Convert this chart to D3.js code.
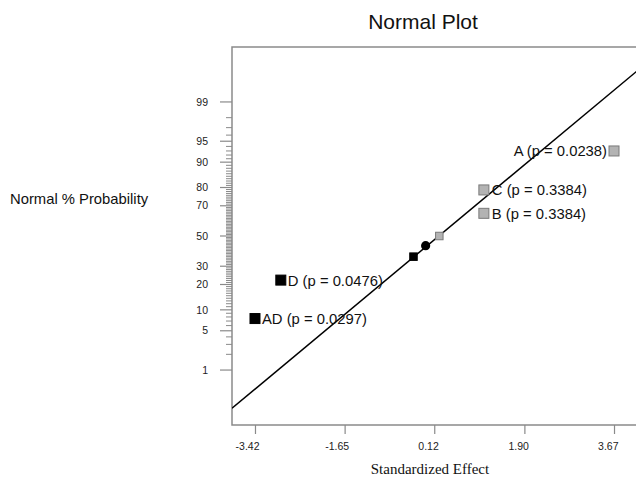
<!DOCTYPE html>
<html><head><meta charset="utf-8">
<script src="https://cdn.jsdelivr.net/npm/d3@7"></script>
<style>body{margin:0;background:#fff}svg{display:block}</style>
</head><body><svg id="c" width="636" height="480"></svg>
<script>
// ---- data ----
const effectNames   = ["AD", "D", "E1", "E2", "E3", "B", "C", "A"];
const effectValues  = [-3.42, -2.91, -0.29, -0.05, 0.22, 1.10, 1.10, 3.67];
const normalPercent = [7.6, 22.2, 36.0, 43.3, 50.0, 65.3, 78.8, 93.0];
const effectLabels  = ["AD (p = 0.0297)", "D (p = 0.0476)", "", "", "", "B (p = 0.3384)", "C (p = 0.3384)", "A (p = 0.0238)"];
const effectSign    = ["neg", "neg", "neg", "mid", "pos", "pos", "pos", "pos"];
const effectLabeled = [true, true, false, false, false, true, true, true];
const xTickValues = [-3.42, -1.65, 0.12, 1.90, 3.67];
const xTickLabels = ["-3.42", "-1.65", "0.12", "1.90", "3.67"];
const yMajorTicks = [1, 5, 10, 20, 30, 50, 70, 80, 90, 95, 99];
const yMinorTicks = [2,3,4,6,7,8,9,11,12,13,14,15,16,17,18,19,21,22,23,24,25,26,27,28,29,31,32,33,34,35,36,37,38,39,40,41,42,43,44,45,46,47,48,49,51,52,53,54,55,56,57,58,59,60,61,62,63,64,65,66,67,68,69,71,72,73,74,75,76,77,78,79,81,82,83,84,85,86,87,88,89,91,92,93,94,96,97,98];
const fitLineEffect  = [-3.874, 4.124];
const fitLinePercent = [0.14, 99.79];

// ---- inverse normal CDF (Acklam) ----
function probit(p) {
  const a=[-3.969683028665376e+01,2.209460984245205e+02,-2.759285104469687e+02,1.383577518672690e+02,-3.066479806614716e+01,2.506628277459239e+00];
  const b=[-5.447609879822406e+01,1.615858368580409e+02,-1.556989798598866e+02,6.680131188771972e+01,-1.328068155288572e+01];
  const c=[-7.784894002430293e-03,-3.223964580411365e-01,-2.400758277161838e+00,-2.549732539343734e+00,4.374664141464968e+00,2.938163982698783e+00];
  const d=[7.784695709041462e-03,3.224671290700398e-01,2.445134137142996e+00,3.754408661907416e+00];
  const pl=0.02425, ph=1-pl; let q,r;
  if (p<pl){q=Math.sqrt(-2*Math.log(p));return (((((c[0]*q+c[1])*q+c[2])*q+c[3])*q+c[4])*q+c[5])/((((d[0]*q+d[1])*q+d[2])*q+d[3])*q+1);}
  if (p<=ph){q=p-0.5;r=q*q;return (((((a[0]*r+a[1])*r+a[2])*r+a[3])*r+a[4])*r+a[5])*q/(((((b[0]*r+b[1])*r+b[2])*r+b[3])*r+b[4])*r+1);}
  q=Math.sqrt(-2*Math.log(1-p));return -(((((c[0]*q+c[1])*q+c[2])*q+c[3])*q+c[4])*q+c[5])/((((d[0]*q+d[1])*q+d[2])*q+d[3])*q+1);
}

const svg = d3.select("#c");
const L = 232, R = 637, T = 47, B = 425;
const x = d3.scaleLinear().domain([-3.874, 4.124]).range([L, R]);
const yz = d3.scaleLinear().domain([-3.28, 3.28]).range([B, T]);
const y = pct => yz(probit(pct / 100));
const axisCol = "#8a8a8a", textCol = "#222";
const sans = "Arial, 'Liberation Sans', Helvetica, sans-serif";

// title
svg.append("text").attr("x", 423).attr("y", 29).attr("text-anchor", "middle")
  .attr("font-family", sans).attr("font-size", 21).attr("fill", "#111").text("Normal Plot");

// y axis label
svg.append("text").attr("x", 10).attr("y", 204)
  .attr("font-family", sans).attr("font-size", 14.8).attr("fill", "#111").text("Normal % Probability");

// x axis label
svg.append("text").attr("x", 430).attr("y", 474).attr("text-anchor", "middle")
  .attr("font-family", "'Liberation Serif','Times New Roman',serif").attr("font-size", 15).attr("fill", "#111").text("Standardized Effect");

// frame
svg.append("path").attr("d", `M${R},${T}H${L}V${B}H${R}`).attr("fill", "none")
  .attr("stroke", axisCol).attr("stroke-width", 1.5);

// y axis ticks
const gy = svg.append("g");
gy.selectAll("line.minor").data(yMinorTicks).join("line").attr("class", "minor")
  .attr("x1", L - 6).attr("x2", L).attr("y1", d => y(d)).attr("y2", d => y(d))
  .attr("stroke", axisCol).attr("stroke-width", 1);
gy.selectAll("line.major").data(yMajorTicks).join("line").attr("class", "major")
  .attr("x1", L - 12).attr("x2", L).attr("y1", d => y(d)).attr("y2", d => y(d))
  .attr("stroke", axisCol).attr("stroke-width", 1.2);
gy.selectAll("text").data(yMajorTicks).join("text")
  .attr("x", 208).attr("y", d => y(d)).attr("dy", "0.35em").attr("text-anchor", "end")
  .attr("font-family", sans).attr("font-size", 10.5).attr("fill", textCol).text(d => d);

// x axis
const gx = svg.append("g").attr("transform", `translate(0,${B})`)
  .call(d3.axisBottom(x).tickValues(xTickValues).tickSize(9).tickSizeOuter(0)
    .tickFormat((d, i) => xTickLabels[i]));
gx.select(".domain").remove();
gx.selectAll(".tick line").attr("stroke", axisCol).attr("stroke-width", 1.2);
gx.selectAll(".tick text").attr("font-family", sans).attr("font-size", 10.5).attr("fill", textCol)
  .attr("text-anchor", "end").attr("x", 4).attr("y", 18);

// clip
svg.append("clipPath").attr("id", "clip").append("rect")
  .attr("x", L).attr("y", T).attr("width", R - L).attr("height", B - T);

// fit line
svg.append("line").attr("clip-path", "url(#clip)")
  .attr("x1", x(fitLineEffect[0])).attr("y1", y(fitLinePercent[0]))
  .attr("x2", x(fitLineEffect[1])).attr("y2", y(fitLinePercent[1]))
  .attr("stroke", "#000").attr("stroke-width", 1.5);

// points
const pts = effectNames.map((n, i) => ({name: n, v: effectValues[i], p: normalPercent[i],
  label: effectLabels[i], sign: effectSign[i], big: effectLabeled[i]}));
const gp = svg.append("g");
pts.forEach(d => {
  const cx = x(d.v), cy = y(d.p);
  if (d.sign === "mid") {
    gp.append("circle").attr("cx", cx).attr("cy", cy).attr("r", 4.6).attr("fill", "#000");
    return;
  }
  const s = d.big ? 10 : 7.5;
  const grey = d.sign === "pos";
  gp.append("rect").attr("x", cx - s / 2).attr("y", cy - s / 2).attr("width", s).attr("height", s)
    .attr("fill", grey ? "#b3b3b3" : "#000").attr("stroke", grey ? "#7a7a7a" : "#000").attr("stroke-width", 1);
  if (d.label) {
    const right = d.v < 3;
    gp.append("text").attr("x", right ? cx + (grey ? 8 : 7) : cx - 7).attr("y", cy + 5.5)
      .attr("text-anchor", right ? "start" : "end")
      .attr("font-family", sans).attr("font-size", 14.8).attr("fill", "#111").text(d.label);
  }
});
</script></body></html>
